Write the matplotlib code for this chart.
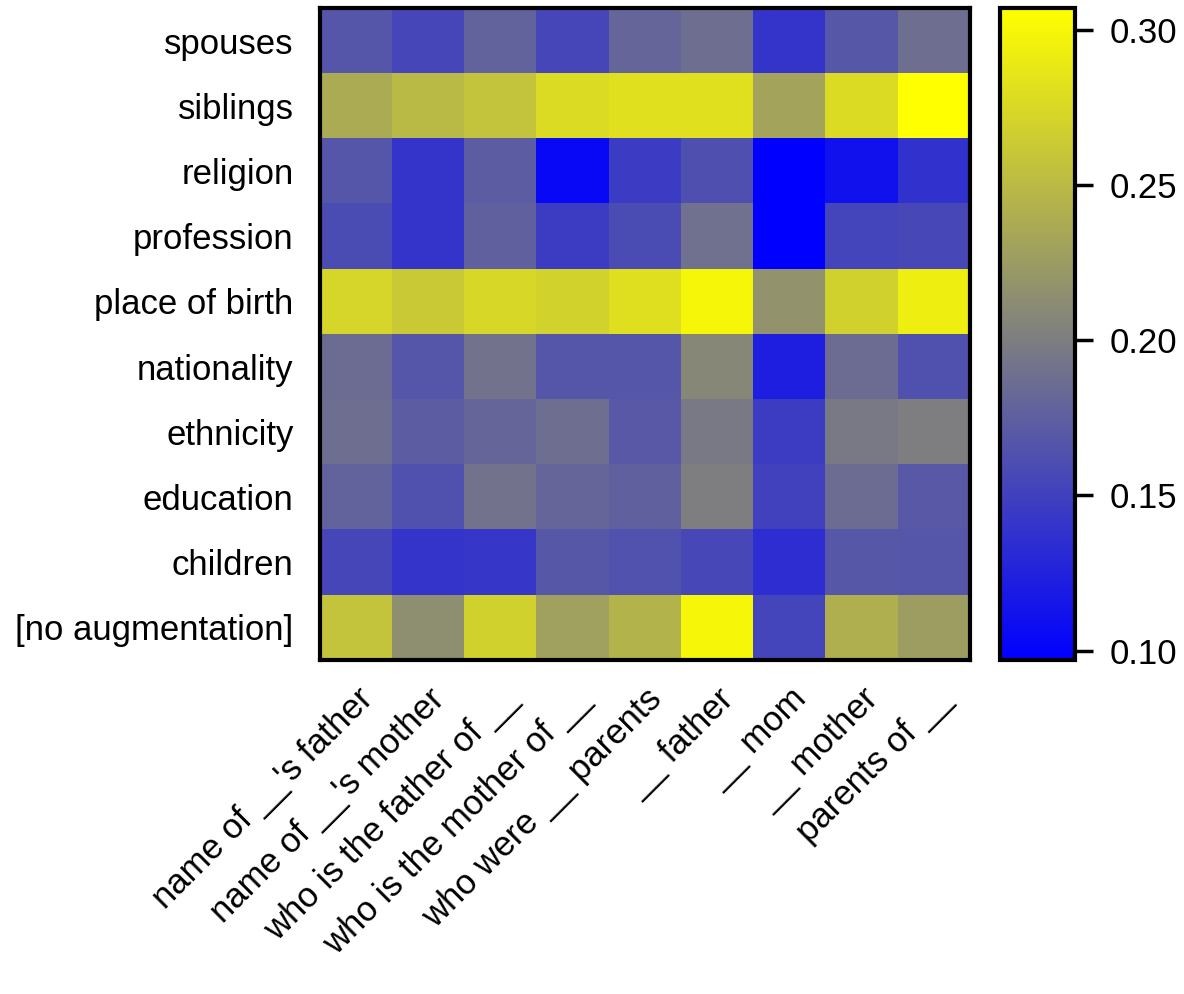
import numpy as np
import matplotlib
matplotlib.use("Agg")
import matplotlib.pyplot as plt
from matplotlib.colors import LinearSegmentedColormap

plt.rcParams['font.family'] = ['Liberation Sans', 'DejaVu Sans']

rows = ['spouses', 'siblings', 'religion', 'profession', 'place of birth',
        'nationality', 'ethnicity', 'education', 'children', '[no augmentation]']
cols = ["name of __'s father", "name of __'s mother", "who is the father of __",
        "who is the mother of __", "who were __ parents", "__ father",
        "__ mom", "__ mother", "parents of __"]

spouses      = [0.167, 0.155, 0.178, 0.155, 0.180, 0.188, 0.140, 0.169, 0.188]
siblings     = [0.238, 0.249, 0.257, 0.277, 0.281, 0.281, 0.231, 0.277, 0.307]
religion     = [0.167, 0.140, 0.173, 0.104, 0.146, 0.162, 0.097, 0.111, 0.138]
profession   = [0.159, 0.140, 0.176, 0.147, 0.159, 0.189, 0.097, 0.153, 0.156]
place_birth  = [0.272, 0.262, 0.274, 0.270, 0.280, 0.299, 0.217, 0.269, 0.293]
nationality  = [0.186, 0.167, 0.191, 0.167, 0.167, 0.208, 0.122, 0.186, 0.163]
ethnicity    = [0.188, 0.173, 0.180, 0.188, 0.170, 0.197, 0.147, 0.197, 0.201]
education    = [0.178, 0.163, 0.191, 0.180, 0.176, 0.201, 0.151, 0.186, 0.170]
children     = [0.155, 0.140, 0.142, 0.169, 0.164, 0.156, 0.134, 0.169, 0.167]
no_aug       = [0.257, 0.214, 0.269, 0.229, 0.244, 0.299, 0.153, 0.241, 0.226]

data = np.array([spouses, siblings, religion, profession, place_birth,
                 nationality, ethnicity, education, children, no_aug])

cmap = LinearSegmentedColormap.from_list('byg', ['#0000ff', '#808080', '#ffff00'])

fig = plt.figure(figsize=(11.84, 9.94), dpi=100)
ax = fig.add_axes([320/1184, 1 - 660/994, 650/1184, 652/994])
cax = fig.add_axes([1000/1184, 1 - 660/994, 75/1184, 652/994])

im = ax.imshow(data, cmap=cmap, vmin=data.min(), vmax=data.max(), aspect='auto',
               interpolation='nearest')
ax.set_yticks(range(len(rows)))
ax.set_yticklabels(rows, fontsize=25)
ax.set_xticks(range(len(cols)))
ax.set_xticklabels(cols, fontsize=25, rotation=45, ha='right', rotation_mode='anchor')
ax.tick_params(axis='y', length=0, pad=19)
ax.tick_params(axis='x', length=0, pad=16)
for s in ax.spines.values():
    s.set_linewidth(3)

cb = fig.colorbar(im, cax=cax)
cb.set_ticks([0.10, 0.15, 0.20, 0.25, 0.30])
cb.ax.tick_params(labelsize=25, width=2.5, length=13, pad=12)
cb.outline.set_linewidth(3)

fig.savefig('out.png', dpi=100)
